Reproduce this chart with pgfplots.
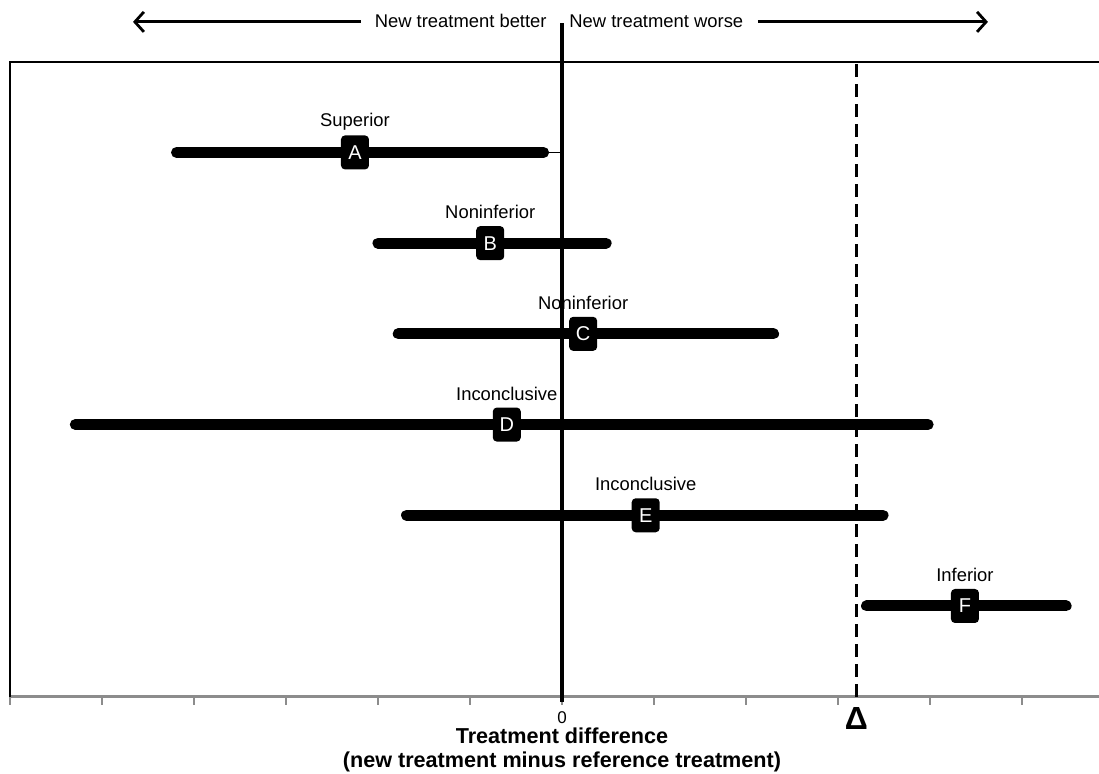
\documentclass[border=0pt]{standalone}
\usepackage{pgfplots}
\pgfplotsset{compat=1.18}
\usepackage{pgfplotstable}
\usepackage{fontspec}
\setmainfont{Liberation Sans}
\usetikzlibrary{arrows.meta}

% one row per trial: confidence interval (lo, hi) and point estimate
\pgfplotstableread{
y lo    hi    pt    id verdict
6 -4.19 -0.20 -2.25 A  Superior
5 -2.00  0.48 -0.78 B  Noninferior
4 -1.78  2.30  0.23 C  Noninferior
3 -5.29  3.98 -0.60 D  Inconclusive
2 -1.69  3.49  0.91 E  Inconclusive
1  3.31  5.48  4.38 F  Inferior
}\trials

\def\margin{3.2}% noninferiority margin (Delta)

\begin{document}
\begin{tikzpicture}
\begin{axis}[
    scale only axis,
    width=544.5bp, height=317.5bp,
    xmin=-6, xmax=5.837,
    ymin=0, ymax=7,
    clip=false,
    axis x line*=bottom,
    axis y line=none,
    x axis line style={draw=gray!90, line width=1.5bp, -},
    xtick={-6,...,5},
    xticklabels={,,,,,,0,,,,,},
    xtick align=outside,
    xtick pos=bottom,
    major tick length=4bp,
    tick style={draw=gray!90, line width=0.6bp},
    ytick=\empty,
    xticklabel style={font=\fontsize{8.5bp}{10bp}\selectfont, yshift=0bp},
    /pgf/number format/assume math mode=true,
]
  % box: left and top edges
  \draw[black, line width=0.8bp] (axis cs:-6,0) -- (axis cs:-6,7) -- (axis cs:5.837,7);
  % zero line and margin
  \draw[black, line width=1.6bp] (axis cs:0,-0.058) -- (axis cs:0,7.43);
  \draw[black, line width=1.6bp, dash pattern=on 6.5bp off 3.5bp] (axis cs:\margin,0) -- (axis cs:\margin,7);

  % thin tie of A to zero
  \addplot[black, line width=0.7bp] coordinates {(-0.2,6) (0,6)};

  % confidence intervals
  \addplot[draw=none, mark=none,
    error bars/.cd, x dir=both, x explicit, error mark=none,
    error bar style={draw=black, solid, line width=5.5bp, line cap=round}]
    table[x=pt, y=y,
          x error plus expr=\thisrow{hi}-\thisrow{pt},
          x error minus expr=\thisrow{pt}-\thisrow{lo}] {\trials};

  % verdict labels
  \addplot[draw=none, mark=none, nodes near coords, point meta=explicit symbolic,
    nodes near coords style={anchor=center, yshift=15.5bp, text=black,
      font=\fontsize{9.2bp}{11bp}\selectfont}]
    table[x=pt, y=y, meta=verdict] {\trials};

  % point estimates
  \addplot[draw=none, mark=none, nodes near coords, point meta=explicit symbolic,
    nodes near coords style={anchor=center, fill=black, text=white,
      rounded corners=2bp, minimum width=14bp, minimum height=17bp, inner sep=0pt,
      font=\fontsize{10bp}{12bp}\selectfont}]
    table[x=pt, y=y, meta=id] {\trials};

  % direction header
  \node[anchor=base east, inner sep=0pt, font=\fontsize{9.2bp}{11bp}\selectfont]
    at (axis cs:-0.163,7.373) {New treatment better};
  \node[anchor=base west, inner sep=0pt, font=\fontsize{9.2bp}{11bp}\selectfont]
    at (axis cs:0.076,7.373) {New treatment worse};
  \draw[line width=1.6bp, -{Straight Barb[length=4.5bp,width=10bp,line width=1.4bp]}]
    (axis cs:-2.185,7.439) -- (axis cs:-4.663,7.439);
  \draw[line width=1.6bp, -{Straight Barb[length=4.5bp,width=10bp,line width=1.4bp]}]
    (axis cs:2.13,7.439) -- (axis cs:4.63,7.439);

  % margin symbol and axis title
  \node[anchor=base, inner sep=0pt, font=\fontsize{16bp}{18bp}\selectfont\bfseries]
    at ([yshift=-16.2bp]axis cs:\margin,0) {Δ};
  \node[anchor=base, inner sep=0pt, font=\fontsize{10.8bp}{13bp}\selectfont\bfseries]
    at ([yshift=-23.2bp]axis cs:0,0) {Treatment difference};
  \node[anchor=base, inner sep=0pt, font=\fontsize{10.8bp}{13bp}\selectfont\bfseries]
    at ([yshift=-35.4bp]axis cs:0,0) {(new treatment minus reference treatment)};
\end{axis}
\pgfresetboundingbox
\path[use as bounding box] (-5bp,-38.65bp) rectangle (544.5bp,348.35bp);
\end{tikzpicture}
\end{document}
